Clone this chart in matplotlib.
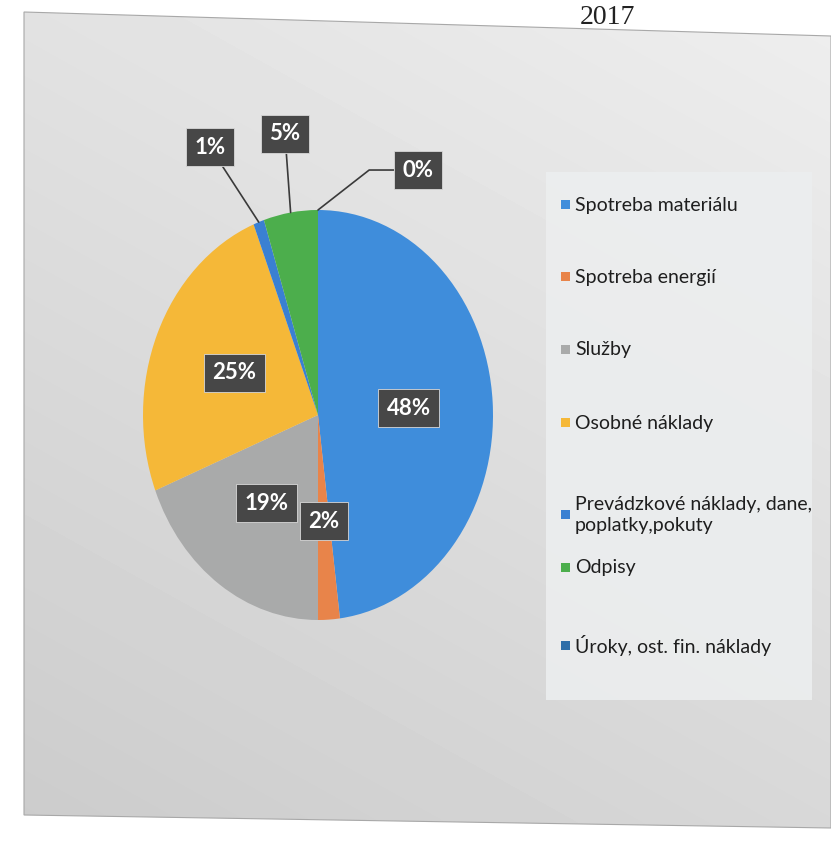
import numpy as np
import matplotlib as mpl
import matplotlib.pyplot as plt
from matplotlib.patches import Polygon, Rectangle

# Data
categories = ['Spotreba materiálu', 'Spotreba energií', 'Služby', 'Osobné náklady',
              'Prevádzkové náklady, dane,\npoplatky,pokuty', 'Odpisy',
              'Úroky, ost. fin. náklady']
shares = [48, 2, 19, 25, 1, 5, 0]
colors = ['#3f8ddb', '#e8844a', '#a9aaaa', '#f5b838', '#3a80d2', '#4cae4c', '#2f6ea8']
year = '2017'

W, H = 831, 842
fig = plt.figure(figsize=(W/100, H/100), dpi=100)
fig.patch.set_facecolor('white')

# scanned grey panel in the background
bg = fig.add_axes([0, 0, 1, 1])
bg.set_xlim(0, W)
bg.set_ylim(H, 0)
bg.axis('off')
yy, xx = np.mgrid[0:H, 0:W]
shade = 0.935 - 0.12*(yy/H)*0.75 - 0.11*(1 - xx/W)*0.45
img = bg.imshow(shade, cmap='gray', vmin=0, vmax=1, extent=(0, W, H, 0),
                interpolation='bilinear', zorder=0)
panel = Polygon([[24, 12], [831, 36], [831, 828], [24, 815]], closed=True,
                transform=bg.transData, fc='none', ec='#a8a8a8', lw=0.8)
bg.add_patch(panel)
img.set_clip_path(panel)

# legend box
bg.add_patch(Rectangle((546, 172), 266, 528, fc='#eceeef', ec='none', zorder=1,
                       alpha=0.9))

fig.text(607/W, 1 - 17/H, year, family='Liberation Serif', fontsize=20,
         ha='center', va='center', color='#222222')

# pie (elliptic because of the photographed page)
ax = fig.add_axes([143/W, 1 - 620/H, 350/W, 410/H])
ax.patch.set_alpha(0)
wedges, _ = ax.pie(shares, colors=colors, startangle=90, counterclock=False,
                   wedgeprops=dict(linewidth=0), radius=1)
ax.set_aspect('auto')
ax.set_xlim(-1, 1)
ax.set_ylim(-1, 1)
ax.axis('off')

box = dict(boxstyle='square,pad=0.38', fc='#474747', ec='#d8d8d8', lw=0.6)
lab_font = dict(family='Lato', fontsize=16, fontweight='bold', color='white')

outside = {4: (-0.617, 1.307), 5: (-0.189, 1.371), 6: (0.571, 1.195)}
for i, (w, v) in enumerate(zip(wedges, shares)):
    mid = np.deg2rad((w.theta1 + w.theta2) / 2)
    txt = f'{v:.0f}%'
    if i in outside:
        px, py = outside[i]
        conn = 'arc3' if i != 6 else 'angle,angleA=0,angleB=38,rad=0'
        ax.annotate(txt, xy=(np.cos(mid), np.sin(mid)), xytext=(px, py),
                    ha='center', va='center', bbox=box, annotation_clip=False,
                    arrowprops=dict(arrowstyle='-', color='#3a3a3a', lw=1.2,
                                    connectionstyle=conn, shrinkA=0, shrinkB=0),
                    **lab_font)
    else:
        ax.text(0.52*np.cos(mid), 0.52*np.sin(mid), txt, ha='center',
                va='center', bbox=box, **lab_font)

# legend entries
leg_y = [205, 277, 350, 423, 515, 568, 646]
for name, c, y in zip(categories, colors, leg_y):
    bg.add_patch(Rectangle((561, y - 5), 9, 9, fc=c, ec='none', zorder=3))
    bg.text(575, y, name, family='Lato', fontsize=14, color='#1e1e1e',
            va='center', ha='left', linespacing=1.35, zorder=3)

fig.savefig('out.png', dpi=100)
